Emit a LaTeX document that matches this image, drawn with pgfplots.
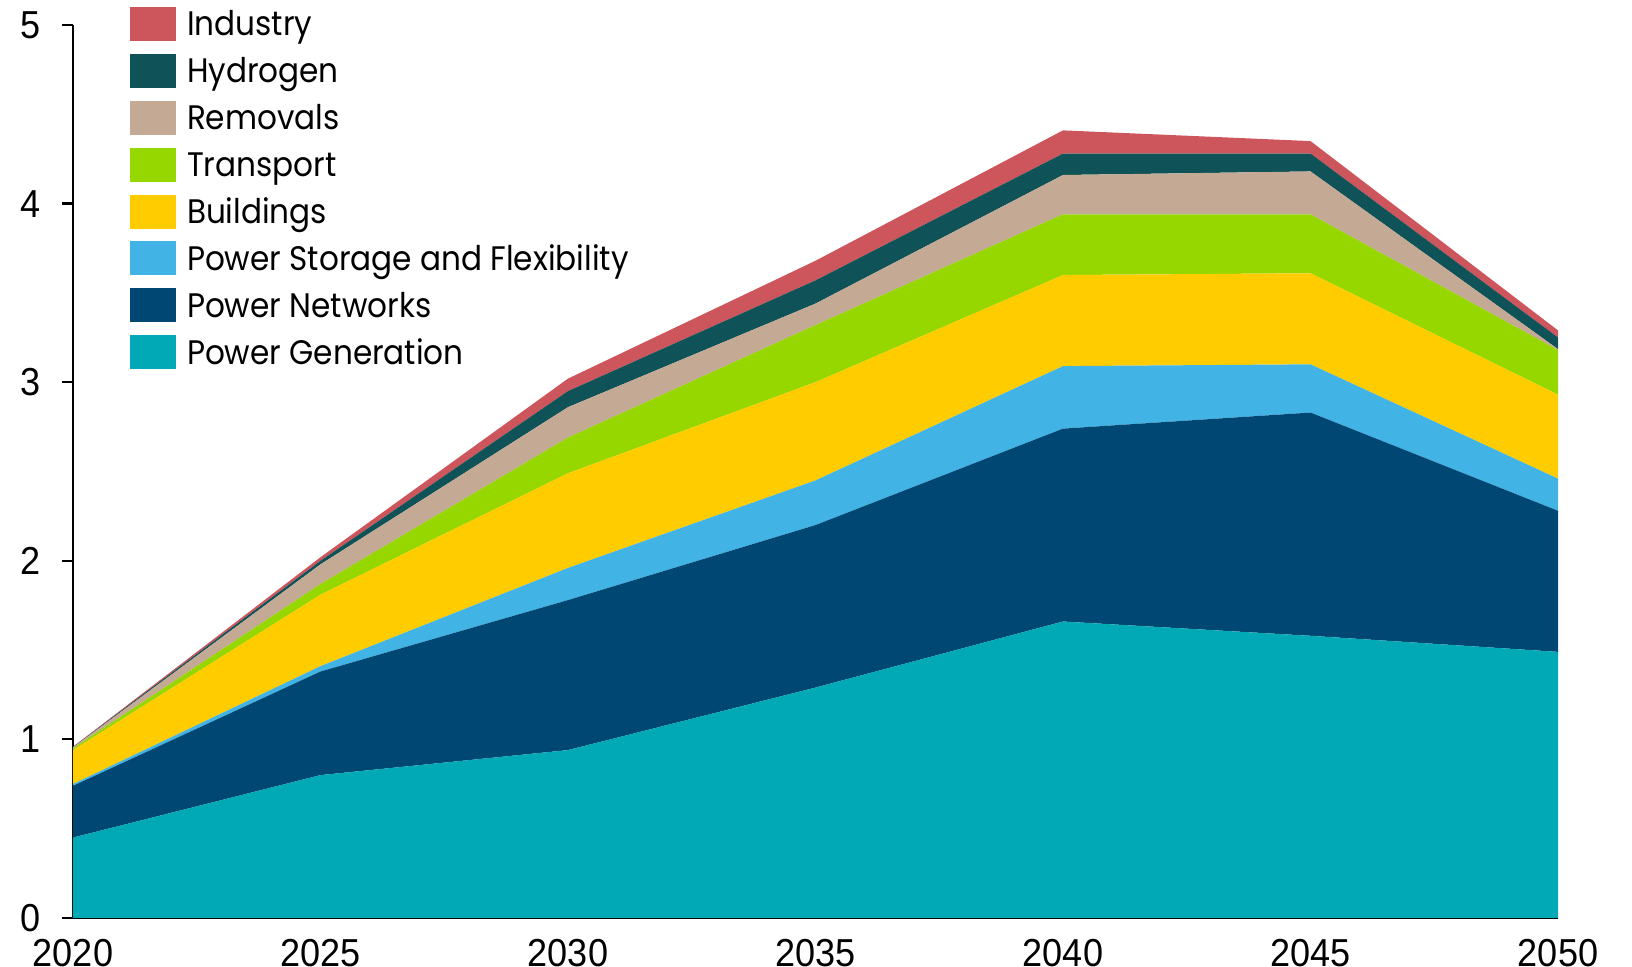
\documentclass[border=0pt]{standalone}
\usepackage{pgfplots}
\usepackage{pgfplotstable}
\pgfplotsset{compat=1.18}
\usepackage{fontspec}
\setmainfont{Poppins}[FakeStretch=0.915]
\newfontfamily\tickfont{Liberation Sans}[FakeStretch=0.925]

\definecolor{cind}{HTML}{CD555C}
\definecolor{chyd}{HTML}{0F5257}
\definecolor{crem}{HTML}{C4A994}
\definecolor{ctra}{HTML}{96D700}
\definecolor{cbld}{HTML}{FFCC00}
\definecolor{csto}{HTML}{41B3E4}
\definecolor{cnet}{HTML}{004873}
\definecolor{cgen}{HTML}{00A9B5}

\pgfplotstableread{
year gen  net  sto  bld  tra  rem   hyd   ind
2020 0.45 0.29 0.01 0.19 0.01 0.005 0.002 0.002
2025 0.80 0.58 0.03 0.40 0.06 0.11  0.02  0.02
2030 0.94 0.84 0.18 0.53 0.20 0.17  0.09  0.07
2035 1.29 0.91 0.25 0.55 0.32 0.12  0.13  0.11
2040 1.66 1.08 0.35 0.51 0.34 0.22  0.12  0.13
2045 1.58 1.25 0.27 0.51 0.33 0.24  0.10  0.07
2050 1.49 0.79 0.18 0.47 0.25 0.005 0.065 0.04
}\datatable

\begin{document}
\begin{tikzpicture}
\useasboundingbox (-36.5pt,-24.5pt) rectangle (779.5pt,459pt);
\begin{axis}[
  at={(0pt,0pt)}, anchor=south west,
  scale only axis, width=742.5pt, height=446.5pt,
  xmin=2020, xmax=2050, ymin=0, ymax=5,
  stack plots=y,
  axis x line*=bottom, axis y line*=left,
  axis line style={line width=1.1pt, black},
  xtick={2020,2025,...,2050}, ytick={0,1,2,3,4,5},
  tick label style={font=\tickfont\fontsize{19.5}{21}\selectfont},
  x tick label style={/pgf/number format/1000 sep={}, yshift=-1.5pt},
  y tick label style={xshift=-7.3pt},
  xtick style={draw=none},
  ytick style={line width=1.1pt, black},
  tick align=outside, major tick length=5.5pt,
  /pgf/number format/assume math mode=true,
  clip=false,
  reverse legend,
  legend image code/.code={\fill[#1] (0pt,-2.5pt) rectangle (23pt,14.5pt);},
  legend style={
    at={(rel axis cs:0,1)}, anchor=north west, xshift=28.5pt, yshift=9pt,
    draw=none, fill=none, inner sep=0pt, outer sep=0pt,
    row sep=6.45pt, column sep=5.5pt,
    font=\fontsize{17}{20}\selectfont,
    nodes={inner sep=0pt, anchor=base west, text height=14.5pt, text depth=2.5pt},
  },
  legend cell align=left,
]
\addplot[fill=cgen, draw=none] table[x=year, y=gen] {\datatable} \closedcycle;
\addlegendentry{Power Generation}
\addplot[fill=cnet, draw=none] table[x=year, y=net] {\datatable} \closedcycle;
\addlegendentry{Power Networks}
\addplot[fill=csto, draw=none] table[x=year, y=sto] {\datatable} \closedcycle;
\addlegendentry{Power Storage and Flexibility}
\addplot[fill=cbld, draw=none] table[x=year, y=bld] {\datatable} \closedcycle;
\addlegendentry{Buildings}
\addplot[fill=ctra, draw=none] table[x=year, y=tra] {\datatable} \closedcycle;
\addlegendentry{Transport}
\addplot[fill=crem, draw=none] table[x=year, y=rem] {\datatable} \closedcycle;
\addlegendentry{Removals}
\addplot[fill=chyd, draw=none] table[x=year, y=hyd] {\datatable} \closedcycle;
\addlegendentry{Hydrogen}
\addplot[fill=cind, draw=none] table[x=year, y=ind] {\datatable} \closedcycle;
\addlegendentry{Industry}
\end{axis}
\end{tikzpicture}
\end{document}
